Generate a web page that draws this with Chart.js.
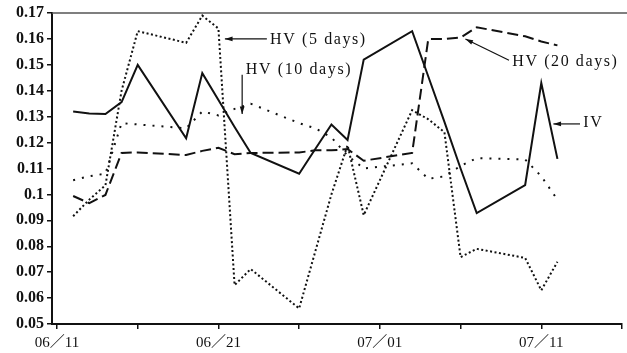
<!DOCTYPE html>
<html>
<head>
<meta charset="utf-8">
<script src="https://cdn.jsdelivr.net/npm/chart.js@4.4.1/dist/chart.umd.min.js"></script>
<style>
  html, body { margin: 0; padding: 0; background: #fff; }
  #wrap { width: 627px; height: 353px; position: relative; }
</style>
</head>
<body>
<div id="wrap"><canvas id="ivChart"></canvas></div>
<script>
// trading days, counted in calendar days from 06/11
const tradingDays = [1, 2, 3, 4, 5, 8, 9, 10, 11, 12, 15, 16, 17, 18, 19, 22, 23, 24, 25, 26, 29, 30, 31];

const iv   = [0.132, 0.1312, 0.131, 0.1356, 0.150, 0.1217, 0.1468, 0.1364, 0.126, 0.116, 0.108, 0.1175,
              0.127, 0.121, 0.152, 0.163, 0.1455, 0.128, 0.110, 0.0928, 0.1036, 0.143, 0.1137];
const hv5  = [0.0916, 0.098, 0.1035, 0.140, 0.163, 0.1585, 0.169, 0.164, 0.065, 0.0712, 0.056, 0.078,
              0.100, 0.119, 0.092, 0.1325, 0.129, 0.124, 0.0758, 0.079, 0.0755, 0.063, 0.074];
const hv10 = [0.1055, 0.107, 0.108, 0.1275, 0.127, 0.1255, 0.132, 0.1305, 0.133, 0.135, 0.1275, 0.1255,
              0.122, 0.115, 0.110, 0.112, 0.106, 0.107, 0.111, 0.114, 0.1135, 0.107, 0.098];
const hv20 = [0.0994, 0.0966, 0.0998, 0.116, 0.1162, 0.1152, 0.1168, 0.118, 0.1155, 0.116, 0.1162, 0.117,
              0.117, 0.1175, 0.113, 0.116, 0.160, 0.160, 0.1605, 0.1645, 0.161, 0.159, 0.1575];

const xTicks = [0, 5, 10, 15, 20, 25, 30, 35];
const xTickLabels = ['06／11', '', '06／21', '', '07／01', '', '07／11', ''];
const yTicks = [0.05, 0.06, 0.07, 0.08, 0.09, 0.10, 0.11, 0.12, 0.13, 0.14, 0.15, 0.16, 0.17];

// callouts: text anchor and arrow, in data units
const callouts = [
  { text: 'HV (5 days)',  at: [13.2, 0.1598],  from: [13.0, 0.1600], to: [10.4, 0.1600] },
  { text: 'HV (10 days)', at: [11.7, 0.1480],  from: [11.47, 0.1462], to: [11.47, 0.1310] },
  { text: 'HV (20 days)', at: [28.2, 0.1511],  from: [28.0, 0.1518], to: [25.3, 0.1600] },
  { text: 'IV',           at: [32.6, 0.1275],  from: [32.4, 0.1272], to: [30.75, 0.1272] }
];

const serif = '"Liberation Serif", "Noto Sans CJK JP", serif';
const ink = '#111';

function pts(values) {
  return tradingDays.map((d, i) => ({ x: d, y: values[i] }));
}

const calloutPlugin = {
  id: 'callouts',
  afterDatasetsDraw(chart) {
    const { ctx, chartArea, scales: { x, y } } = chart;
    ctx.save();
    // top frame line
    ctx.strokeStyle = '#555';
    ctx.lineWidth = 1.5;
    ctx.beginPath();
    ctx.moveTo(chartArea.left, chartArea.top);
    ctx.lineTo(chart.width, chartArea.top);
    ctx.stroke();

    ctx.fillStyle = ink;
    ctx.strokeStyle = ink;
    ctx.font = '16px ' + serif;
    ctx.letterSpacing = '1.6px';
    ctx.textBaseline = 'middle';
    ctx.textAlign = 'left';
    callouts.forEach(c => {
      ctx.fillText(c.text, x.getPixelForValue(c.at[0]), y.getPixelForValue(c.at[1]));
      const x0 = x.getPixelForValue(c.from[0]), y0 = y.getPixelForValue(c.from[1]);
      const x1 = x.getPixelForValue(c.to[0]),   y1 = y.getPixelForValue(c.to[1]);
      ctx.lineWidth = 1.2;
      ctx.beginPath();
      ctx.moveTo(x0, y0);
      ctx.lineTo(x1, y1);
      ctx.stroke();
      const a = Math.atan2(y1 - y0, x1 - x0);
      ctx.beginPath();
      ctx.moveTo(x1, y1);
      ctx.lineTo(x1 - 8 * Math.cos(a - 0.3), y1 - 8 * Math.sin(a - 0.3));
      ctx.lineTo(x1 - 8 * Math.cos(a + 0.3), y1 - 8 * Math.sin(a + 0.3));
      ctx.closePath();
      ctx.fill();
    });
    ctx.restore();
  }
};

const ctx = document.getElementById('ivChart').getContext('2d');
new Chart(ctx, {
  type: 'line',
  data: {
    datasets: [
      { label: 'IV', data: pts(iv), borderColor: ink, borderWidth: 2 },
      { label: 'HV (5 days)', data: pts(hv5), borderColor: ink, borderWidth: 2, borderDash: [2, 2.5] },
      { label: 'HV (10 days)', data: pts(hv10), borderColor: ink, borderWidth: 2, borderDash: [2, 7] },
      { label: 'HV (20 days)', data: pts(hv20), borderColor: ink, borderWidth: 2, borderDash: [11, 5] }
    ]
  },
  options: {
    responsive: true,
    maintainAspectRatio: false,
    animation: false,
    elements: { point: { radius: 0 }, line: { tension: 0 } },
    layout: { padding: { top: 13, right: 5, left: 0, bottom: 0 } },
    plugins: { legend: { display: false }, tooltip: { enabled: false } },
    scales: {
      x: {
        type: 'linear',
        min: -0.31,
        max: 35,
        afterBuildTicks: axis => { axis.ticks = xTicks.map(v => ({ value: v })); },
        afterFit: axis => { axis.height = 29; },
        grid: { drawOnChartArea: false, tickLength: 5, color: ink, lineWidth: 1.5 },
        border: { color: ink, width: 2 },
        ticks: {
          autoSkip: false,
          maxRotation: 0,
          padding: 5,
          color: ink,
          font: { family: serif, size: 15 },
          callback: v => xTickLabels[xTicks.indexOf(v)] ?? ''
        }
      },
      y: {
        min: 0.05,
        max: 0.17,
        afterBuildTicks: axis => { axis.ticks = yTicks.map(v => ({ value: v })); },
        afterFit: axis => { axis.width = 52; },
        grid: { drawOnChartArea: false, tickLength: 5, color: ink, lineWidth: 1.5 },
        border: { color: ink, width: 2 },
        ticks: {
          padding: 3,
          color: ink,
          font: { family: serif, size: 16, weight: 'bold' },
          callback: v => String(+v.toFixed(2))
        }
      }
    }
  },
  plugins: [calloutPlugin]
});
</script>
</body>
</html>
